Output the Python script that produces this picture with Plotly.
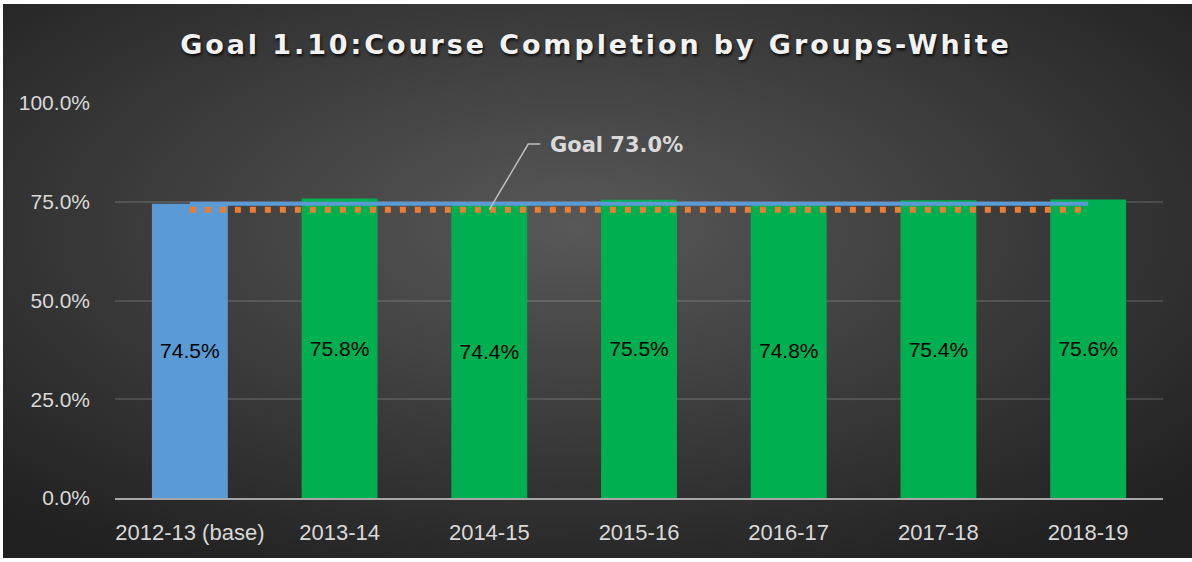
import base64
import plotly.graph_objects as go

# Course completion rates (%) for the White student group
years = ["2012-13 (base)", "2013-14", "2014-15", "2015-16", "2016-17", "2017-18", "2018-19"]
completion = [74.5, 75.8, 74.4, 75.5, 74.8, 75.4, 75.6]
base_value = completion[0]
goal_value = 73.0
y_ticks = [0, 25, 50, 75, 100]
y_tick_labels = [f"{v:.1f}%" for v in y_ticks]

BASE_BLUE = "#5b9bd5"
BAR_GREEN = "#00b050"
GOAL_ORANGE = "#ed7d31"
TEXT_GREY = "#d9d9d9"
TICK_FONT = "Liberation Sans Narrow, Liberation Sans, sans-serif"

W, H = 1192, 562
L, R, T, B = 115, 29, 103, 64
plot_w, plot_h = W - L - R, H - T - B

# dark radial-gradient panel behind the chart
svg = (
    '<svg xmlns="http://www.w3.org/2000/svg" width="1189" height="554" viewBox="0 0 1189 554" preserveAspectRatio="none">'
    '<defs><radialGradient id="g" cx="48%" cy="40%" r="70%">'
    '<stop offset="0" stop-color="#585858"/><stop offset="1" stop-color="#212121"/>'
    '</radialGradient></defs><rect width="1189" height="554" fill="url(#g)"/></svg>'
)
panel_src = "data:image/svg+xml;base64," + base64.b64encode(svg.encode()).decode()
px0, py0, px1, py1 = 3, 4, 1192, 558

fig = go.Figure()

bar_colors = [BASE_BLUE] + [BAR_GREEN] * (len(years) - 1)
fig.add_trace(go.Bar(
    x=years, y=completion,
    marker=dict(color=bar_colors, line=dict(width=0)),
    texttemplate="%{y:.1f}%", textposition="inside", insidetextanchor="middle",
    textangle=0, constraintext="none",
    textfont=dict(family=TICK_FONT, size=21, color="#000000"),
    hoverinfo="skip", showlegend=False,
))

# baseline reference line
fig.add_trace(go.Scatter(
    x=years, y=[base_value] * len(years), mode="lines",
    line=dict(color=BASE_BLUE, width=4), hoverinfo="skip", showlegend=False,
))

# goal line
fig.add_trace(go.Scatter(
    x=years, y=[goal_value] * len(years), mode="lines",
    line=dict(color=GOAL_ORANGE, width=6, dash="6px,9px"),
    hoverinfo="skip", showlegend=False,
))

# goal label with elbow leader
goal_idx = 2
fig.add_shape(
    type="path", xref="x", yref="y",
    path=f"M {goal_idx},{goal_value} L {goal_idx + 0.26},{goal_value + 16.6} L {goal_idx + 0.34},{goal_value + 16.6}",
    line=dict(color="#bfbfbf", width=1.5),
)
fig.add_annotation(
    x=goal_idx + 0.39, y=goal_value + 16.3, xref="x", yref="y",
    text=f"<b>Goal {goal_value:.1f}%</b>", showarrow=False,
    xanchor="left", yanchor="middle",
    font=dict(family="DejaVu Sans", size=21, color=TEXT_GREY),
)

fig.update_layout(
    width=W, height=H,
    margin=dict(l=L, r=R, t=T, b=B, pad=0),
    paper_bgcolor="#ffffff", plot_bgcolor="rgba(0,0,0,0)",
    bargap=0.493,
    title=dict(
        text='<span style="letter-spacing:2.9px">Goal 1.10:Course Completion by Groups-White</span>',
        x=0.5, xref="container", xanchor="center",
        y=1 - 45 / H, yref="container", yanchor="middle",
        font=dict(family="DejaVu Sans", size=27, color="#f2f2f2", weight="bold",
                  shadow="1px 2px 3px rgba(0,0,0,0.85)"),
    ),
    images=[dict(
        source=panel_src, xref="paper", yref="paper",
        x=(px0 - L) / plot_w, y=(H - B - py0) / plot_h,
        sizex=(px1 - px0) / plot_w, sizey=(py1 - py0) / plot_h,
        xanchor="left", yanchor="top", sizing="stretch", layer="below",
    )],
    xaxis=dict(
        showgrid=False, showline=True, linecolor="#a6a6a6", linewidth=2,
        ticks="", ticklabelstandoff=14,
        tickfont=dict(family=TICK_FONT, size=22, color=TEXT_GREY),
    ),
    yaxis=dict(
        range=[0, 100], tickvals=y_ticks, ticktext=y_tick_labels,
        showgrid=True, gridcolor="rgba(255,255,255,0.13)", gridwidth=1.5,
        zeroline=False, showline=False, ticks="", ticklabelstandoff=24,
        tickfont=dict(family=TICK_FONT, size=21, color=TEXT_GREY),
    ),
)

fig.write_html("out.html")
